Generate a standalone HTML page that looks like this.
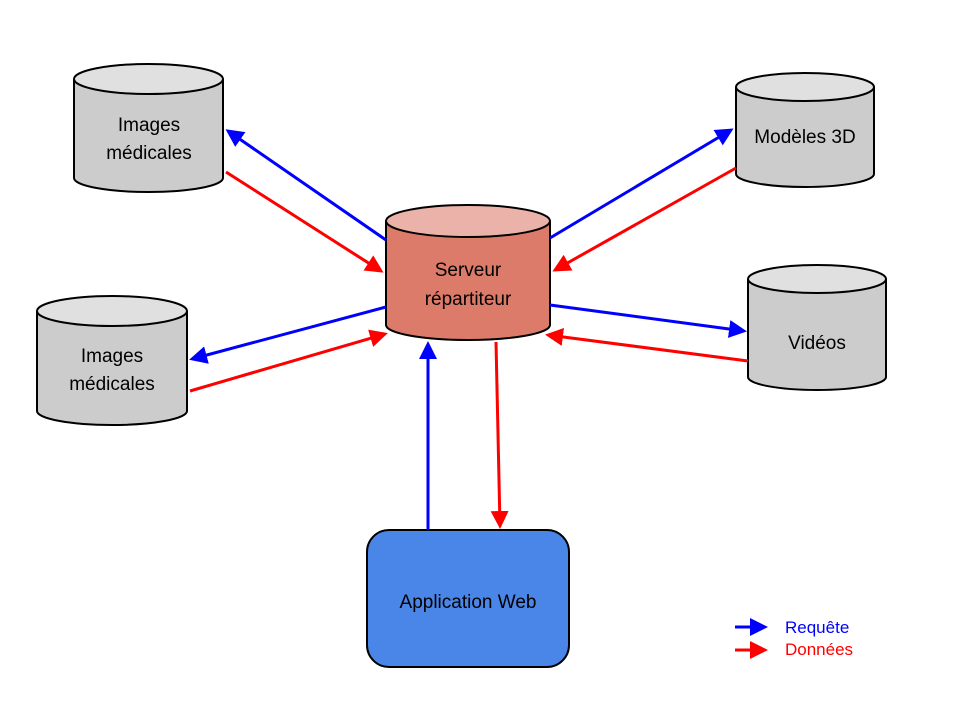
<!DOCTYPE html>
<html><head><meta charset="utf-8"><style>body{margin:0;background:#fff}svg{display:block}</style></head><body>
<svg width="960" height="720" xmlns="http://www.w3.org/2000/svg" font-family="'Liberation Sans',sans-serif">
<defs>
<marker id="b" markerWidth="6" markerHeight="6" refX="5" refY="3" orient="auto" markerUnits="strokeWidth"><path d="M0,0 L6,3 L0,6 z" fill="#0000ff"/></marker>
<marker id="r" markerWidth="6" markerHeight="6" refX="5" refY="3" orient="auto" markerUnits="strokeWidth"><path d="M0,0 L6,3 L0,6 z" fill="#ff0000"/></marker>
</defs>
<g stroke="#000" stroke-width="2">
<path d="M74,79 V178 A74.5,14 0 0 0 223,178 V79" fill="#cccccc"/><ellipse cx="148.5" cy="79" rx="74.5" ry="15" fill="#e0e0e0"/>
<path d="M37,311 V411 A75,14 0 0 0 187,411 V311" fill="#cccccc"/><ellipse cx="112" cy="311" rx="75" ry="15" fill="#e0e0e0"/>
<path d="M386,221 V325 A82,15 0 0 0 550,325 V221" fill="#dd7b6a"/><ellipse cx="468" cy="221" rx="82" ry="16" fill="#eab2a8"/>
<path d="M736,87 V174 A69,13 0 0 0 874,174 V87" fill="#cccccc"/><ellipse cx="805" cy="87" rx="69" ry="14" fill="#e0e0e0"/>
<path d="M748,279 V377 A69,13 0 0 0 886,377 V279" fill="#cccccc"/><ellipse cx="817" cy="279" rx="69" ry="14" fill="#e0e0e0"/>
<rect x="367" y="530" width="202" height="137" rx="22" fill="#4a86e8"/>
</g>
<g stroke-width="3" fill="none">
<line x1="386" y1="240" x2="228" y2="131" stroke="#0000ff" marker-end="url(#b)"/>
<line x1="226" y1="172" x2="381" y2="271" stroke="#ff0000" marker-end="url(#r)"/>
<line x1="386" y1="307" x2="192" y2="359" stroke="#0000ff" marker-end="url(#b)"/>
<line x1="190" y1="391" x2="385" y2="334" stroke="#ff0000" marker-end="url(#r)"/>
<line x1="550" y1="238" x2="731" y2="130" stroke="#0000ff" marker-end="url(#b)"/>
<line x1="736" y1="168" x2="555" y2="270" stroke="#ff0000" marker-end="url(#r)"/>
<line x1="550" y1="305" x2="744" y2="331" stroke="#0000ff" marker-end="url(#b)"/>
<line x1="748" y1="361" x2="548" y2="335" stroke="#ff0000" marker-end="url(#r)"/>
<line x1="428" y1="530" x2="428" y2="344" stroke="#0000ff" marker-end="url(#b)"/>
<line x1="496" y1="342" x2="500" y2="526" stroke="#ff0000" marker-end="url(#r)"/>
<line x1="735" y1="627" x2="765" y2="627" stroke="#0000ff" marker-end="url(#b)"/>
<line x1="735" y1="650" x2="765" y2="650" stroke="#ff0000" marker-end="url(#r)"/>
</g>
<g font-size="19" text-anchor="middle" fill="#000">
<text x="149" y="131">Images</text><text x="149" y="159">médicales</text>
<text x="112" y="362">Images</text><text x="112" y="390">médicales</text>
<text x="468" y="276">Serveur</text><text x="468" y="305">répartiteur</text>
<text x="805" y="143">Modèles 3D</text>
<text x="817" y="349">Vidéos</text>
<text x="468" y="608">Application Web</text>
</g>
<g font-size="17">
<text x="785" y="633" fill="#0000ff">Requête</text>
<text x="785" y="655" fill="#ff0000">Données</text>
</g>
</svg>
</body></html>
